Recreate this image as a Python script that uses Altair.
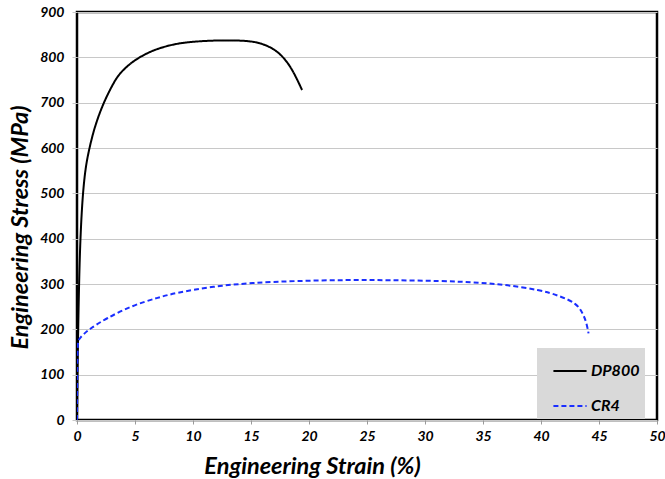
import altair as alt
import pandas as pd

dp800_strain = [0, 0.05, 0.1, 0.2, 0.32, 0.5, 0.75, 1.07, 1.5, 2.27, 3.28, 3.71, 4.5, 5.43, 6.58, 8.0, 9.46, 12.3, 14.6, 15.8, 16.9, 17.8, 18.6, 19.4]
dp800_stress = [0, 110, 200, 330, 419, 500, 560, 600, 645, 700, 750, 765, 785, 801, 816, 827, 834, 838, 837, 832, 820, 801, 772, 728]

cr4_strain = [0, 0.02, 0.05, 0.12, 0.3, 0.6, 1.1, 2.5, 4.8, 7.0, 8.4, 11.8, 15.0, 19.0, 23.3, 27.0, 31.3, 34.9, 37.0, 39.9, 41.6, 43.1, 43.6, 43.9, 44.1]
cr4_stress = [0, 100, 165, 176, 182, 190, 201, 224, 253, 270, 280, 295, 302.5, 307, 309, 308.5, 307, 303, 298, 287, 274, 257, 235, 217, 191]

series = ["DP800", "CR4"]

rows = []
for i, (x, y) in enumerate(zip(dp800_strain, dp800_stress)):
    rows.append({"series": "DP800", "strain": x, "stress": y, "order": i})
for i, (x, y) in enumerate(zip(cr4_strain, cr4_stress)):
    rows.append({"series": "CR4", "strain": x, "stress": y, "order": i})
df = pd.DataFrame(rows)

FONT = "Lato"

chart = alt.Chart(df).mark_line(strokeWidth=2, interpolate="basis", clip=True).encode(
    x=alt.X("strain:Q",
            scale=alt.Scale(domain=[0, 50], nice=False),
            axis=alt.Axis(title="Engineering Strain (%)", values=list(range(0, 51, 5)),
                          grid=False, tickColor="#999999", tickSize=4, domain=False,
                          labelFlush=False, labelPadding=5, titleX=235, titleY=53,
                          titleBaseline="alphabetic")),
    y=alt.Y("stress:Q",
            scale=alt.Scale(domain=[0, 900], nice=False),
            axis=alt.Axis(title="Engineering Stress (MPa)", values=list(range(0, 901, 100)),
                          grid=True, gridColor="#c8c8c8", tickColor="#c8c8c8", tickSize=5,
                          domain=False, labelFlush=False, labelPadding=8, titleX=-57,
                          titleY=215, titleBaseline="middle")),
    color=alt.Color("series:N", sort=series,
                    scale=alt.Scale(domain=series, range=["#000000", "#1a2eff"]),
                    legend=alt.Legend(title=None, orient="none", legendX=460, legendY=336,
                                      fillColor="#d9d9d9", padding=5, symbolOffset=10,
                                      symbolType="stroke",
                                      symbolSize=1100, symbolStrokeWidth=2, rowPadding=9,
                                      labelOffset=3, labelFontSize=16, labelFont=FONT,
                                      labelFontWeight="bold", labelFontStyle="italic",
                                      labelColor="#000000")),
    strokeDash=alt.StrokeDash("series:N", sort=series,
                              scale=alt.Scale(domain=series, range=[[1, 0], [5, 3]]),
                              legend=None),
    order="order:Q",
).properties(
    width=580, height=408,
    background="#ffffff",
    autosize=alt.AutoSizeParams(type="none"),
    padding={"left": 77, "top": 12, "right": 8, "bottom": 59},
).configure_view(
    stroke="#000000", strokeWidth=2.5
).configure_axis(
    labelFont=FONT, labelFontSize=14, labelFontWeight="bold", labelFontStyle="italic",
    labelColor="#000000", titleFont=FONT, titleFontSize=23.5, titleFontWeight="bold",
    titleFontStyle="italic", titleColor="#000000"
)

chart.save("out.html", embed_options={"renderer": "svg", "actions": False})
